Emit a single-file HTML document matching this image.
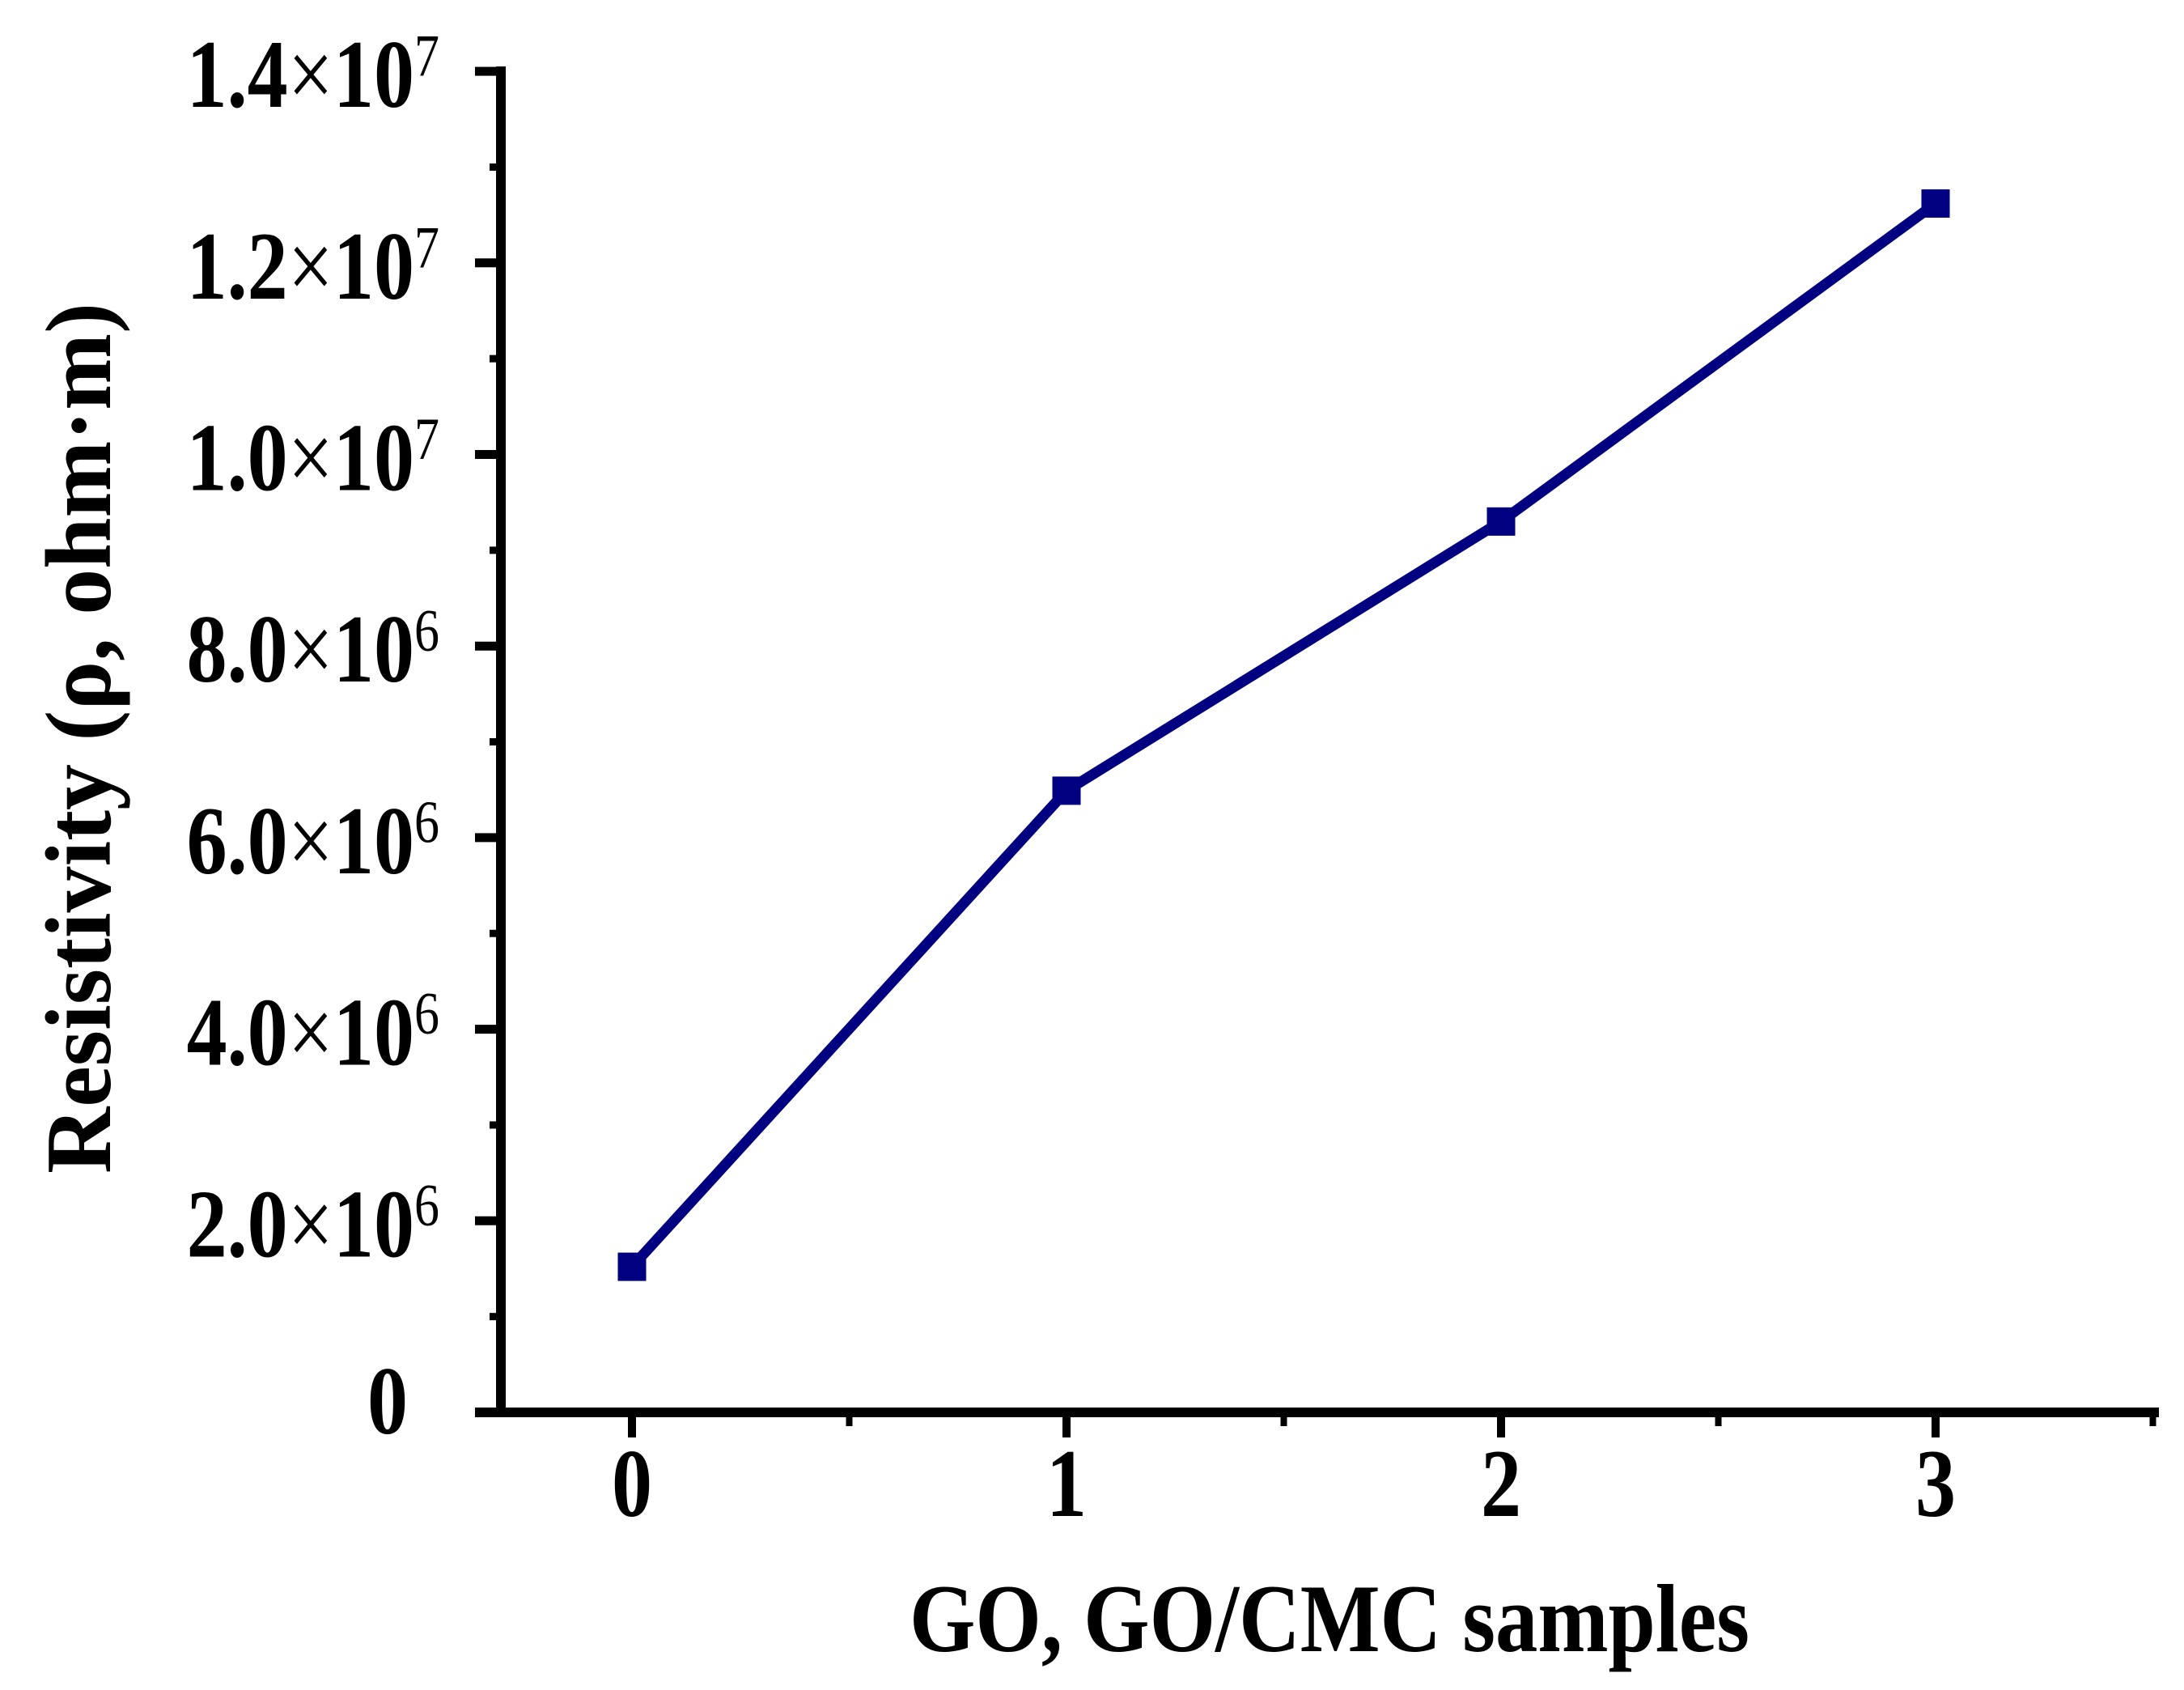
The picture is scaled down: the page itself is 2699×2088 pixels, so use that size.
<!DOCTYPE html>
<html><head><meta charset="utf-8"><style>
html,body{margin:0;padding:0;background:#fff;}
svg{display:block;font-family:"Liberation Serif","Times New Roman",serif;font-weight:bold;}
</style></head><body>
<svg id="chart" width="2699" height="2088" viewBox="0 0 2699 2088">
<g id="axes"></g>
<g id="series"></g>
<g transform="translate(1643,2040) scale(1,1.2)"><text x="0" y="0" font-size="100" text-anchor="middle" textLength="1038" lengthAdjust="spacingAndGlyphs">GO, GO/CMC samples</text></g>
<g transform="translate(136,912) rotate(-90) scale(1,1.15)"><text x="0" y="0" font-size="100" text-anchor="middle" textLength="1076" lengthAdjust="spacingAndGlyphs">Resistivity (ρ, ohm·m)</text></g>
</svg>
<script>
const categories = [0, 1, 2, 3];
const resistivity = [1.52e6, 6.49e6, 9.3e6, 12.62e6];
const yTickMantissa = ["0", "2.0", "4.0", "6.0", "8.0", "1.0", "1.2", "1.4"];
const yTickExp = ["", "6", "6", "6", "6", "7", "7", "7"];
const yTickValues = [0, 2e6, 4e6, 6e6, 8e6, 1e7, 1.2e7, 1.4e7];
const xTickLabels = ["0", "1", "2", "3"];

const NS = "http://www.w3.org/2000/svg";
const x0 = 781, xStep = 537;
const y0 = 1745, yPer = 236.7 / 2e6;
function xs(v){ return x0 + v * xStep; }
function ys(v){ return y0 - v * yPer; }
function mk(tag, attrs, parent){
  const e = document.createElementNS(NS, tag);
  for (const k in attrs) e.setAttribute(k, attrs[k]);
  parent.appendChild(e); return e;
}
const axes = document.getElementById('axes');
const ser = document.getElementById('series');
const axisX = 619;
let yl = mk('line', {x1: axisX, y1: ys(1.4e7) - 6, x2: axisX, y2: y0 + 6, stroke: '#000', 'stroke-width': 12}, axes);


let xl = mk('line', {x1: 587, y1: y0, x2: 2668, y2: y0, stroke: '#000', 'stroke-width': 12}, axes);


yTickValues.forEach((v, i) => {
  const y = ys(v);
  if (i > 0) {
    const t = mk('line', {x1: 587, y1: y, x2: axisX, y2: y, stroke: '#000', 'stroke-width': 11}, axes);
    
    
  }
  if (i < yTickValues.length - 1) {
    const ym = ys(v + 1e6);
    const m = mk('line', {x1: 605, y1: ym, x2: axisX, y2: ym, stroke: '#000', 'stroke-width': 9}, axes);
    
    
  }
  const gx = i === 0 ? 504 : 543;
  const gy = i === 0 ? 1771 : y + 44;
  const g = mk('g', {transform: 'translate(' + gx + ',' + gy + ') scale(1,1.2)'}, axes);
  const txt = mk('text', {x: 0, y: 0, 'font-size': 100, 'text-anchor': 'end'}, g);
  
  
  if (i === 0) { txt.textContent = yTickMantissa[i]; }
  else {
    const a = mk('tspan', {}, txt); a.textContent = yTickMantissa[i];
    const b = mk('tspan', {'font-weight': 'normal'}, txt); b.textContent = '×';
    const c = mk('tspan', {}, txt); c.textContent = '10';
    const d = mk('tspan', {'font-size': 62, 'font-weight': 'normal', dy: -32}, txt); d.textContent = yTickExp[i];
  }
});
categories.forEach((c, i) => {
  const x = xs(c);
  const t = mk('line', {x1: x, y1: y0, x2: x, y2: 1776, stroke: '#000', 'stroke-width': 10}, axes);
  
  
  const xm = xs(c + 0.5);
  const m = mk('line', {x1: xm, y1: y0, x2: xm, y2: 1762, stroke: '#000', 'stroke-width': 8}, axes);
  
  
  const g = mk('g', {transform: 'translate(' + x + ',1873) scale(1,1.2)'}, axes);
  const lbl = mk('text', {x: 0, y: 0, 'font-size': 100, 'text-anchor': 'middle'}, g);
  
  
  lbl.textContent = xTickLabels[i];
});
const pts = categories.map((c, i) => xs(c) + ',' + ys(resistivity[i])).join(' ');
const pl = mk('polyline', {points: pts, fill: 'none', stroke: '#000080', 'stroke-width': 13, 'stroke-linejoin': 'round'}, ser);


categories.forEach((c, i) => {
  const s = 35;
  const r = mk('rect', {x: xs(c) - s/2, y: ys(resistivity[i]) - s/2, width: s, height: s, fill: '#000080'}, ser);
  
  
});
</script>
</body></html>
